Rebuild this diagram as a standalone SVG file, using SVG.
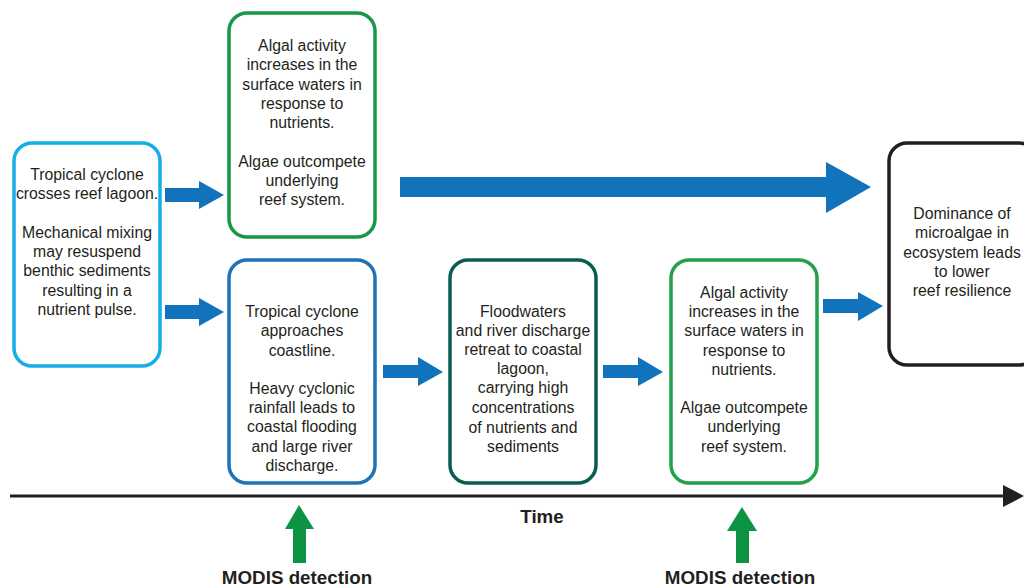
<svg xmlns="http://www.w3.org/2000/svg" width="1024" height="588" viewBox="0 0 1024 588">
<style>
.box{fill:#fff;stroke-width:3.5}
.t{font-family:"Liberation Sans",Arial,sans-serif;font-size:15.8px;fill:#231f20;text-anchor:middle}
.b{font-family:"Liberation Sans",Arial,sans-serif;font-size:18.8px;font-weight:bold;fill:#231f20;text-anchor:middle}
.ba{fill:#1173bb}
.ga{fill:#0c9444}
</style>
<rect width="1024" height="588" fill="#fff"/>
<g id="connectors">
<polygon class="ba" points="165,188 199,188 199,181 224,195 199,209 199,202 165,202"/>
<polygon class="ba" points="165,305 199,305 199,298 224,312 199,326 199,319 165,319"/>
<polygon class="ba" points="400,177 826,177 826,162 871,187 826,213 826,197 400,197"/>
<polygon class="ba" points="383,365 418,365 418,357 443,372 418,386 418,378 383,378"/>
<polygon class="ba" points="603,365 638,365 638,357 663,372 638,386 638,378 603,378"/>
<polygon class="ba" points="823,299 858,299 858,292 883,306 858,321 858,313 823,313"/>
</g>
<g id="box1">
<rect class="box" x="14" y="143" width="146" height="223" rx="18" stroke="#15aee5"/>
<text class="t"><tspan x="87" y="180">Tropical cyclone</tspan><tspan x="87" y="199">crosses reef lagoon.</tspan><tspan x="87" y="238">Mechanical mixing</tspan><tspan x="87" y="257">may resuspend</tspan><tspan x="87" y="276">benthic sediments</tspan><tspan x="87" y="296">resulting in a</tspan><tspan x="87" y="315">nutrient pulse.</tspan></text>
</g>
<g id="box2">
<rect class="box" x="229" y="13" width="146" height="224" rx="18" stroke="#179847"/>
<text class="t"><tspan x="302" y="51">Algal activity</tspan><tspan x="302" y="70">increases in the</tspan><tspan x="302" y="90">surface waters in</tspan><tspan x="302" y="109">response to</tspan><tspan x="302" y="128">nutrients.</tspan><tspan x="302" y="167">Algae outcompete</tspan><tspan x="302" y="186">underlying</tspan><tspan x="302" y="205">reef system.</tspan></text>
</g>
<g id="box3">
<rect class="box" x="229" y="260" width="146" height="223" rx="18" stroke="#1d72b8"/>
<text class="t"><tspan x="302" y="317">Tropical cyclone</tspan><tspan x="302" y="336">approaches</tspan><tspan x="302" y="356">coastline.</tspan><tspan x="302" y="394">Heavy cyclonic</tspan><tspan x="302" y="413">rainfall leads to</tspan><tspan x="302" y="432">coastal flooding</tspan><tspan x="302" y="452">and large river</tspan><tspan x="302" y="471">discharge.</tspan></text>
</g>
<g id="box4">
<rect class="box" x="450" y="260" width="146" height="223" rx="18" stroke="#0a5c53"/>
<text class="t"><tspan x="523" y="317">Floodwaters</tspan><tspan x="523" y="336">and river discharge</tspan><tspan x="523" y="355">retreat to coastal</tspan><tspan x="523" y="374">lagoon,</tspan><tspan x="523" y="393">carrying high</tspan><tspan x="523" y="413">concentrations</tspan><tspan x="523" y="433">of nutrients and</tspan><tspan x="523" y="452">sediments</tspan></text>
</g>
<g id="box5">
<rect class="box" x="671" y="260" width="146" height="223" rx="18" stroke="#22a04b"/>
<text class="t"><tspan x="744" y="298">Algal activity</tspan><tspan x="744" y="317">increases in the</tspan><tspan x="744" y="336">surface waters in</tspan><tspan x="744" y="356">response to</tspan><tspan x="744" y="375">nutrients.</tspan><tspan x="744" y="413">Algae outcompete</tspan><tspan x="744" y="432">underlying</tspan><tspan x="744" y="452">reef system.</tspan></text>
</g>
<g id="box6">
<rect class="box" x="889" y="143" width="148" height="222" rx="18" stroke="#231f20"/>
<text class="t"><tspan x="962" y="219">Dominance of</tspan><tspan x="962" y="238">microalgae in</tspan><tspan x="962" y="258">ecosystem leads</tspan><tspan x="962" y="277">to lower</tspan><tspan x="962" y="296">reef resilience</tspan></text>
</g>
<g id="timeline">
<line x1="10" y1="496" x2="1005" y2="496" stroke="#231f20" stroke-width="3"/>
<polygon points="1003,485 1024,496 1003,507" fill="#231f20"/>
<text class="b" x="542" y="523" font-size="16.5">Time</text>
</g>
<g id="modis1">
<polygon class="ga" points="293,563 293,529 285,529 299,505 314,529 306,529 306,563"/>
<text class="b" x="297" y="584">MODIS detection</text>
</g>
<g id="modis2">
<polygon class="ga" points="736,563 736,531 727,531 742,507 757,531 749,531 749,563"/>
<text class="b" x="740" y="584">MODIS detection</text>
</g>
</svg>
